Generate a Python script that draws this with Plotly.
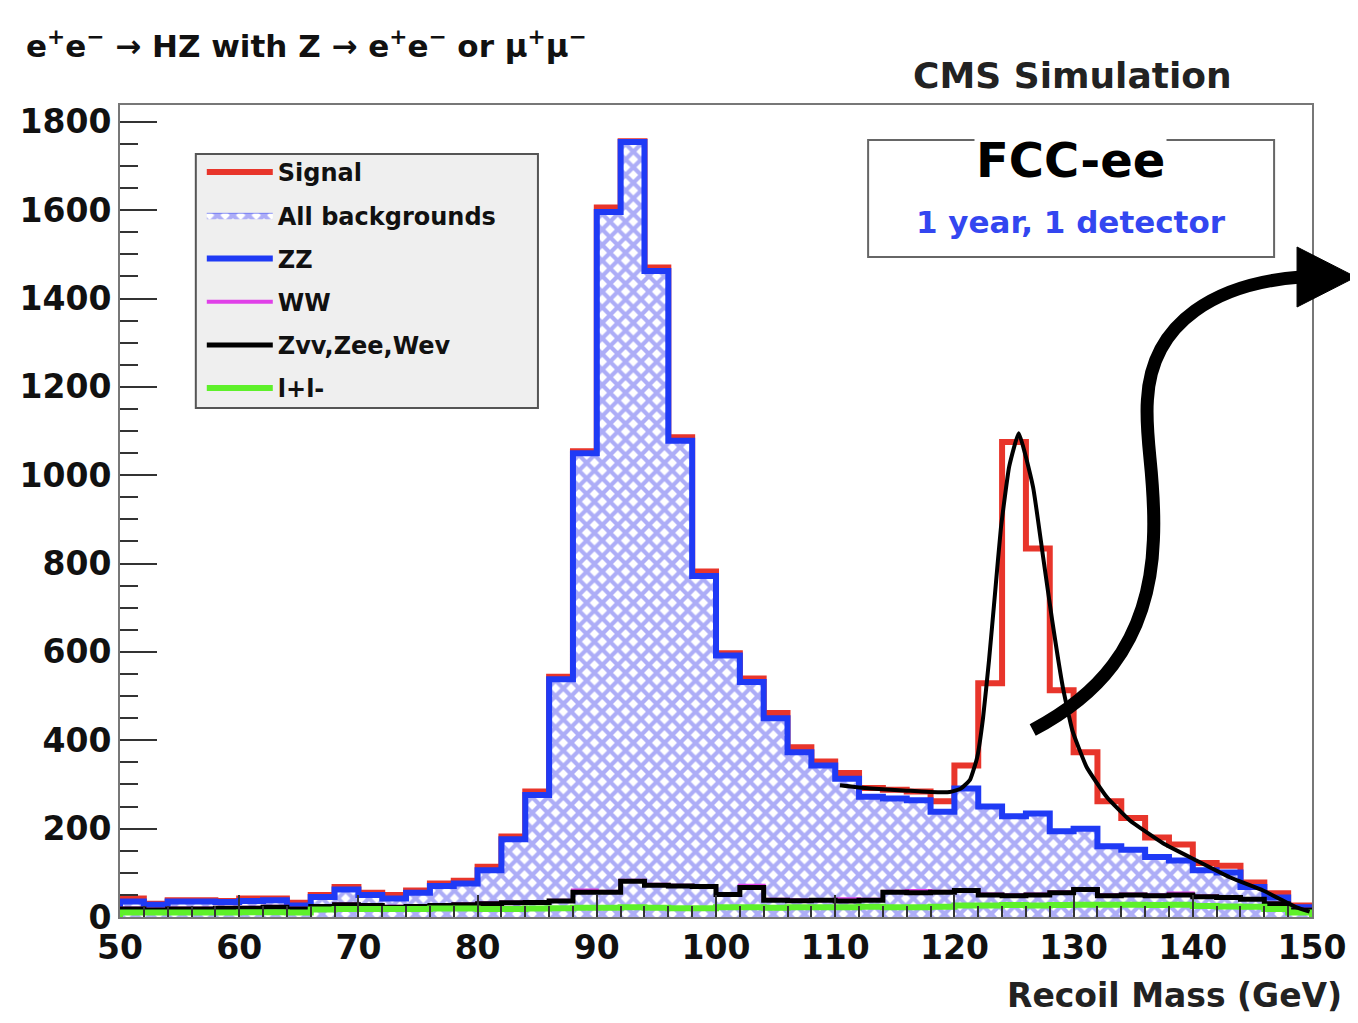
import plotly.graph_objects as go

# ---------------- data ----------------
bin_edges = [50 + 2 * i for i in range(51)]  # 2 GeV bins, 50..150

# signal + all backgrounds (red outline)
total_counts = [42, 30, 38, 38, 36, 42, 42, 32, 50, 68,
                55, 50, 60, 76, 82, 114, 182, 284, 544, 1054,
                1606, 1756, 1470, 1086, 782, 597, 540, 462, 384, 352,
                326, 292, 288, 284, 262, 343, 529, 1075, 834, 513,
                373, 262, 224, 180, 164, 122, 116, 78, 54, 26]

# all backgrounds (hatched, blue outline)
bkg_counts = [35, 28, 35, 35, 34, 36, 38, 26, 45, 62,
              50, 42, 55, 70, 76, 106, 176, 276, 538, 1050,
              1596, 1754, 1462, 1078, 772, 592, 532, 450, 373, 343,
              313, 272, 268, 264, 238, 291, 250, 228, 234, 194,
              200, 160, 152, 136, 128, 106, 101, 68, 44, 22]

# Zvv, Zee, Wev
zvv_counts = [18, 16, 18, 18, 20, 20, 22, 18, 24, 28,
              26, 22, 24, 26, 28, 30, 32, 33, 36, 56,
              56, 81, 72, 70, 69, 51, 67, 38, 37, 38,
              36, 38, 56, 55, 56, 60, 50, 48, 50, 55,
              62, 48, 50, 48, 50, 46, 44, 40, 30, 16]

# WW
ww_counts = [19, 17, 19, 19, 21, 21, 23, 19, 25, 29,
             27, 23, 25, 27, 29, 31, 33, 34, 37, 60,
             57, 82, 73, 71, 70, 52, 71, 39, 38, 38,
             40, 39, 57, 59, 57, 61, 51, 49, 51, 56,
             63, 49, 51, 49, 53, 47, 45, 41, 31, 17]

# l+l-
ll_counts = [10, 10, 10, 10, 10, 11, 11, 10, 17, 18,
             18, 18, 18, 19, 19, 18, 18, 19, 20, 21,
             21, 22, 21, 20, 20, 22, 22, 21, 22, 22,
             22, 23, 22, 22, 23, 26, 26, 27, 26, 27,
             28, 28, 28, 27, 28, 25, 24, 23, 18, 10]

# smooth fit of the signal region
fit_mass = [110.4, 112.0, 114.0, 116.0, 118.0, 119.6, 120.5, 121.3, 121.9, 122.4,
            122.9, 123.4, 123.9, 124.6, 125.4, 126.6, 127.4, 128.2, 129.1, 129.9,
            131.1, 132.8, 134.7, 137.5, 140.3, 143.1, 145.9, 148.7, 149.8]
fit_counts = [298, 293, 289, 286, 283, 283, 290, 310, 360, 450,
              580, 730, 880, 1020, 1095, 973, 823, 672, 520, 422,
              339, 271, 219, 167, 128, 90, 60, 22, 12]

x_ticks = [50, 60, 70, 80, 90, 100, 110, 120, 130, 140, 150]
y_ticks = [0, 200, 400, 600, 800, 1000, 1200, 1400, 1600, 1800]

# ---------------- helpers ----------------
def step_xy(edges, vals):
    xs = [edges[0]] + list(edges[:-1]) + [edges[-1], edges[-1]]
    ys = [0] + list(vals) + [vals[-1], 0]
    return xs, ys

# pixel layout of the plotting frame (reference picture coordinates)
L, R, T, B = 118, 1313, 105, 917
OFF = 8                      # page body offset
W, H = 1350, 1015            # figure size

def px(x):
    return (x - L) / (R - L)

def py(y):
    return (B - y) / (B - T)

FONT = "DejaVu Sans, Liberation Sans, Arial, sans-serif"
BOLD = dict(family=FONT, weight=700)

fig = go.Figure()

sx, sy = step_xy(bin_edges, total_counts)
fig.add_trace(go.Scatter(x=sx, y=sy, mode="lines", line_shape="hv",
                         line=dict(color="#e8352b", width=6), name="Signal",
                         legendgroup="a"))

bx, by = step_xy(bin_edges, bkg_counts)
fig.add_trace(go.Scatter(x=bx, y=by, mode="lines", line_shape="hv",
                         line=dict(color="#2233f0", width=0.5),
                         fill="tozeroy", fillcolor="white",
                         fillpattern=dict(shape="x", fgcolor="#5c5cf0", bgcolor="white",
                                          size=11, solidity=0.62),
                         name="All backgrounds", legendgroup="b"))

fig.add_trace(go.Scatter(x=bx, y=by, mode="lines", line_shape="hv",
                         line=dict(color="#1f3af5", width=6), name="ZZ",
                         legendgroup="c"))

wx, wy = step_xy(bin_edges, ww_counts)
fig.add_trace(go.Scatter(x=wx, y=wy, mode="lines", line_shape="hv",
                         line=dict(color="#e040e8", width=4), name="WW",
                         legendgroup="d"))

zx, zy = step_xy(bin_edges, zvv_counts)
fig.add_trace(go.Scatter(x=zx, y=zy, mode="lines", line_shape="hv",
                         line=dict(color="black", width=5), name="Zvv,Zee,Wev",
                         legendgroup="e"))

lx, ly = step_xy(bin_edges, ll_counts)
fig.add_trace(go.Scatter(x=lx, y=ly, mode="lines", line_shape="hv",
                         line=dict(color="#5ef02a", width=6), name="l+l-",
                         legendgroup="f"))

fig.add_trace(go.Scatter(x=fit_mass, y=fit_counts, mode="lines",
                         line=dict(color="black", width=4, shape="spline", smoothing=0.4),
                         showlegend=False, name="fit"))

# ---------------- decorations ----------------
shapes = []
# legend box
shapes.append(dict(type="rect", xref="paper", yref="paper",
                   x0=px(194), x1=px(537), y0=py(408), y1=py(154),
                   fillcolor="#efefef", line=dict(color="#555555", width=2), layer="above"))
# FCC-ee box
shapes.append(dict(type="rect", xref="paper", yref="paper",
                   x0=px(868), x1=px(1275), y0=py(257), y1=py(140),
                   fillcolor="white", line=dict(color="#666666", width=2), layer="above"))

def path(cmds):
    out = []
    for cmd, pts in cmds:
        coords = " ".join(f"{px(a):.5f},{py(b):.5f}" for a, b in pts)
        out.append(f"{cmd}{coords}")
    return " ".join(out)

arrow_curve = path([
    ("M", [(1033, 730)]),
    ("C", [(1090, 700), (1150, 650), (1154, 540)]),
    ("C", [(1157, 480), (1145, 440), (1148, 400)]),
    ("C", [(1152, 320), (1220, 283), (1302, 277)]),
])
shapes.append(dict(type="path", xref="paper", yref="paper", path=arrow_curve,
                   line=dict(color="black", width=13), layer="above"))
arrow_head = path([("M", [(1298, 247)]), ("L", [(1357, 277)]), ("L", [(1298, 307)])]) + " Z"
shapes.append(dict(type="path", xref="paper", yref="paper", path=arrow_head,
                   fillcolor="black", line=dict(color="black", width=1), layer="above"))

annotations = [
    dict(text="e<sup>+</sup>e<sup>−</sup> → HZ with Z → e<sup>+</sup>e<sup>−</sup> or μ<sup>+</sup>μ<sup>−</sup>",
         x=px(22), y=py(44), xref="paper", yref="paper", xanchor="left", yanchor="middle",
         showarrow=False, font=dict(size=31, color="#111111", **BOLD)),
    dict(text="CMS Simulation", x=px(1073), y=py(75), xref="paper", yref="paper",
         xanchor="center", yanchor="middle", showarrow=False,
         font=dict(size=36, color="#222222", **BOLD)),
    dict(text="FCC-ee", x=px(1071), y=py(160), xref="paper", yref="paper",
         xanchor="center", yanchor="middle", showarrow=False, bgcolor="white",
         font=dict(size=48, color="black", **BOLD)),
    dict(text="1 year, 1 detector", x=px(1071), y=py(222), xref="paper", yref="paper",
         xanchor="center", yanchor="middle", showarrow=False,
         font=dict(size=31, color="#3346f0", **BOLD)),
    dict(text="Recoil Mass (GeV)", x=px(1345), y=py(995), xref="paper", yref="paper",
         xanchor="right", yanchor="middle", showarrow=False,
         font=dict(size=33, color="#222222", **BOLD)),
]

fig.update_layout(
    width=W, height=H,
    margin=dict(l=L - OFF, r=W - (R - OFF), t=T - OFF, b=H - (B - OFF)),
    paper_bgcolor="white", plot_bgcolor="white",
    showlegend=True,
    legend=dict(x=px(200), y=py(150), xanchor="left", yanchor="top",
                bgcolor="rgba(0,0,0,0)", borderwidth=0,
                font=dict(size=24, color="#111111", **BOLD),
                tracegroupgap=9, itemwidth=66),
    shapes=shapes,
    annotations=annotations,
    xaxis=dict(range=[50, 150], tickvals=x_ticks, ticktext=[str(v) for v in x_ticks],
               ticks="inside", ticklen=22, tickwidth=2, tickcolor="#333",
               minor=dict(ticks="inside", ticklen=11, dtick=2, tickcolor="#333"),
               showline=True, linecolor="#777777", linewidth=2, mirror=True,
               showgrid=False, zeroline=False,
               tickfont=dict(size=33, color="#111111", **BOLD)),
    yaxis=dict(range=[0, 1838], tickvals=y_ticks, ticktext=[str(v) for v in y_ticks],
               ticks="inside", ticklen=37, tickwidth=2, tickcolor="#333",
               minor=dict(ticks="inside", ticklen=18, dtick=50, tickcolor="#333", tickwidth=2),
               showline=True, linecolor="#777777", linewidth=2, mirror=True,
               showgrid=False, zeroline=False,
               tickfont=dict(size=33, color="#111111", **BOLD)),
)

fig.write_html("out.html")
